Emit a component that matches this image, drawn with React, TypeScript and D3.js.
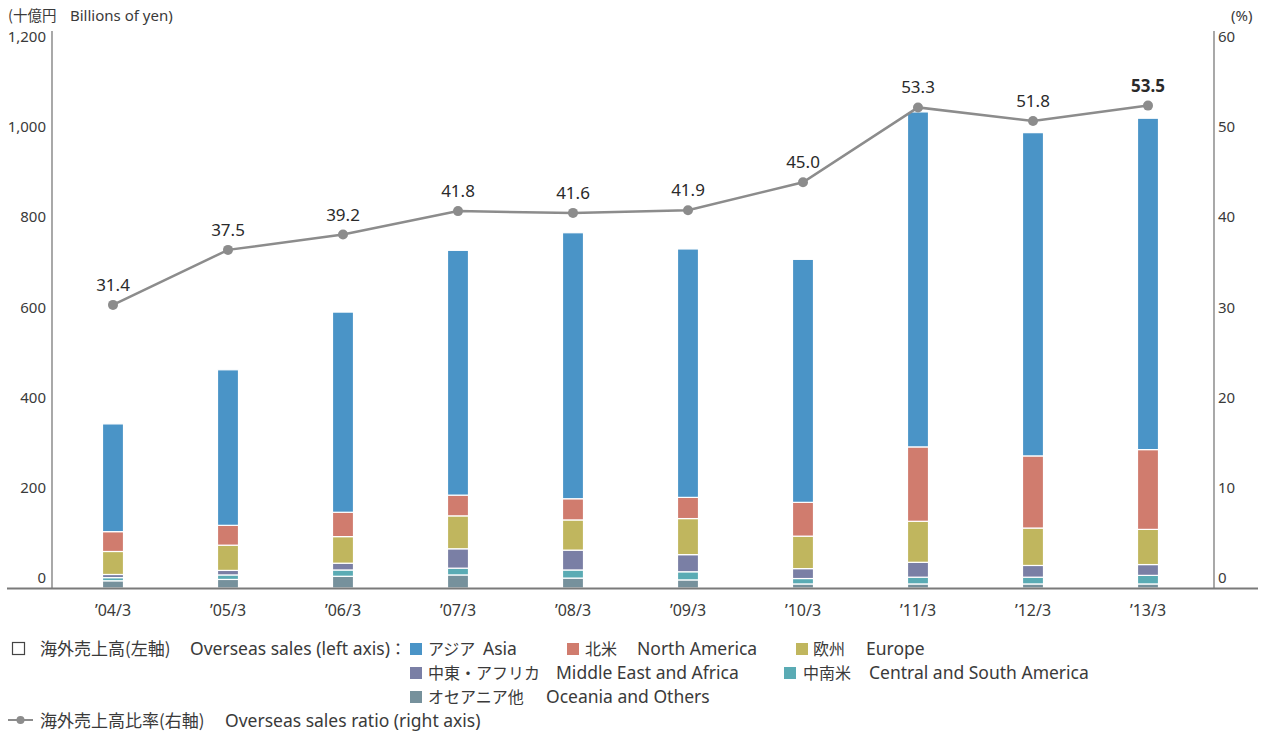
import React from "react";
import * as d3 from "d3";

const categories = ["'04/3", "'05/3", "'06/3", "'07/3", "'08/3", "'09/3", "'10/3", "'11/3", "'12/3", "'13/3"];
const oceania = [16, 19, 26, 29, 22, 18, 9, 9, 9, 9];
const centralSouthAmerica = [7, 10, 14, 15, 18, 18, 12, 15, 15, 19];
const middleEastAfrica = [7, 10, 15, 43, 44, 38, 22, 33, 26, 24];
const europe = [51, 56, 59, 73, 67, 80, 72, 91, 83, 78];
const northAmerica = [44, 44, 54, 46, 47, 47, 75, 165, 160, 177];
const asia = [239, 345, 444, 543, 590, 551, 539, 743, 717, 735];
const ratio = [31.4, 37.5, 39.2, 41.8, 41.6, 41.9, 45.0, 53.3, 51.8, 53.5];
const ratioLabels = ["31.4", "37.5", "39.2", "41.8", "41.6", "41.9", "45.0", "53.3", "51.8", "53.5"];
const leftTicks = [0, 200, 400, 600, 800, 1000, 1200];
const rightTicks = [0, 10, 20, 30, 40, 50, 60];

const seriesKeys = ["oceania", "csa", "mea", "europe", "na", "asia"];
const seriesColors: Record<string, string> = {
  asia: "#4a94c7",
  na: "#d07c6e",
  europe: "#c0b65e",
  mea: "#7a7fa5",
  csa: "#5aabb4",
  oceania: "#76919c",
};

const FONT = "'Noto Sans', 'Noto Sans CJK JP', sans-serif";
const JFONT = "'Noto Sans CJK JP', sans-serif";

export default function App() {
  const W = 1265, H = 733;
  const x = d3.scaleBand<string>().domain(categories).range([55.5, 1205.5]).paddingInner(0.817).paddingOuter(0.4085);
  const yL = d3.scaleLinear().domain([0, 1200]).range([588, 47]);
  const yR = d3.scaleLinear().domain([0, 60]).range([588, 47]);

  const rows = categories.map((c, i) => ({
    cat: c,
    oceania: oceania[i],
    csa: centralSouthAmerica[i],
    mea: middleEastAfrica[i],
    europe: europe[i],
    na: northAmerica[i],
    asia: asia[i],
  }));
  const stacked = d3.stack<any>().keys(seriesKeys)(rows);
  const bw = 21;
  const cx = (c: string) => (x(c) as number) + x.bandwidth() / 2;

  const line = d3.line<number>().x((_, i) => cx(categories[i])).y((d) => yR(d));

  const textColor = "#3a3a3a";
  const axisColor = "#7a7a7a";

  const legendItems1 = [
    { key: "asia", jp: "アジア", en: "Asia", sx: 410, jx: 428, ex: 483, y: 649 },
    { key: "na", jp: "北米", en: "North America", sx: 567, jx: 585, ex: 637, y: 649 },
    { key: "europe", jp: "欧州", en: "Europe", sx: 796, jx: 813, ex: 866, y: 649 },
    { key: "mea", jp: "中東・アフリカ", en: "Middle East and Africa", sx: 410, jx: 428, ex: 556, y: 673 },
    { key: "csa", jp: "中南米", en: "Central and South America", sx: 784, jx: 803, ex: 869, y: 673 },
    { key: "oceania", jp: "オセアニア他", en: "Oceania and Others", sx: 410, jx: 428, ex: 546, y: 697 },
  ];

  return (
    <svg width={W} height={H} style={{ position: "absolute", left: 0, top: 0, background: "#fff" }} fontFamily={FONT}>
      {/* axis titles */}
      <text x={8} y={21} fontSize={14.5} fill={textColor} fontFamily={JFONT}>(十億円</text>
      <text x={70} y={21} fontSize={15} fill={textColor}>Billions of yen)</text>
      <text x={1231} y={21} fontSize={15} fill={textColor}>(%)</text>

      {/* left ticks */}
      {leftTicks.map((t) => (
        <text key={"l" + t} x={46} y={yL(t) - 5} fontSize={15} fill={textColor} textAnchor="end">
          {d3.format(",")(t)}
        </text>
      ))}
      {rightTicks.map((t) => (
        <text key={"r" + t} x={1218} y={yR(t) - 5} fontSize={15} fill={textColor} textAnchor="start">
          {t}
        </text>
      ))}

      {/* bars */}
      {stacked.map((s) => (
        <g key={s.key} fill={seriesColors[s.key]}>
          {s.map((d, i) => (
            <rect
              key={i}
              x={cx(categories[i]) - bw / 2}
              y={yL(d[1])}
              width={bw}
              height={Math.max(0, yL(d[0]) - yL(d[1]))}
              stroke="#fff"
              strokeWidth={1.2}
            />
          ))}
        </g>
      ))}

      {/* axes */}
      <line x1={52} x2={52} y1={31} y2={588} stroke={axisColor} strokeWidth={1.3} />
      <line x1={1214} x2={1214} y1={31} y2={588} stroke={axisColor} strokeWidth={1.3} />
      <line x1={7} x2={1258} y1={588.5} y2={588.5} stroke={axisColor} strokeWidth={2} />

      {/* x labels */}
      {categories.map((c) => (
        <text key={c} x={cx(c)} y={616} fontSize={16} fill={textColor} textAnchor="middle">
          {c.replace("'", "’")}
        </text>
      ))}

      {/* line */}
      <path d={line(ratio) || ""} fill="none" stroke="#8c8c8c" strokeWidth={2.5} />
      {ratio.map((r, i) => (
        <circle key={i} cx={cx(categories[i])} cy={yR(r)} r={5} fill="#8c8c8c" />
      ))}
      {ratio.map((r, i) => (
        <text
          key={"t" + i}
          x={cx(categories[i])}
          y={yR(r) - 14}
          fontSize={17}
          fill="#2a2a2a"
          textAnchor="middle"
          fontWeight={i === ratio.length - 1 ? 700 : 400}
        >
          {ratioLabels[i]}
        </text>
      ))}

      {/* legend */}
      <rect x={12.5} y={642.5} width={12} height={12} fill="none" stroke="#444" strokeWidth={1.2} />
      <text x={40} y={655} fontSize={17} fill={textColor} fontFamily={JFONT}>海外売上高(左軸)</text>
      <text x={190} y={655} fontSize={17.5} fill={textColor}>
        Overseas sales (left axis)<tspan fontFamily={JFONT} fontSize={16}>：</tspan>
      </text>
      {legendItems1.map((it) => (
        <g key={it.key}>
          <rect x={it.sx} y={it.y - 6} width={12} height={12} fill={seriesColors[it.key]} />
          <text x={it.jx} y={it.y + 6} fontSize={16} fill={textColor} fontFamily={JFONT}>{it.jp}</text>
          <text x={it.ex} y={it.y + 6} fontSize={17.5} fill={textColor}>{it.en}</text>
        </g>
      ))}
      <line x1={8} x2={33} y1={720} y2={720} stroke="#8c8c8c" strokeWidth={2} />
      <circle cx={20.5} cy={720} r={4} fill="#8c8c8c" />
      <text x={40} y={727} fontSize={17} fill={textColor} fontFamily={JFONT}>海外売上高比率(右軸)</text>
      <text x={225} y={727} fontSize={17.5} fill={textColor}>Overseas sales ratio (right axis)</text>
    </svg>
  );
}
